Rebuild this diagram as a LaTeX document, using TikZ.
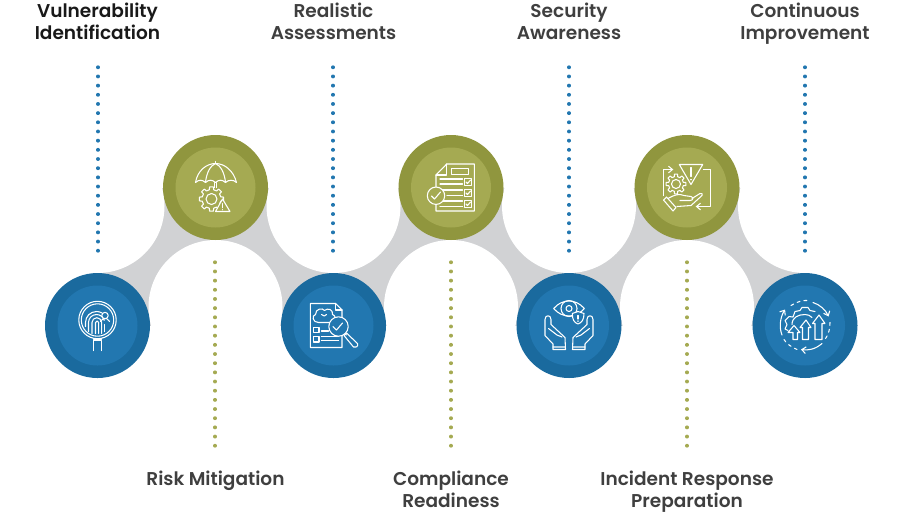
\documentclass[tikz,border=0pt]{standalone}
\usepackage{fontspec}
\setmainfont{Poppins}[BoldFont={Poppins SemiBold}]
\usetikzlibrary{arrows.meta}
\definecolor{blueout}{HTML}{1A6A9E}
\definecolor{bluein}{HTML}{2277B0}
\definecolor{oliveout}{HTML}{90963E}
\definecolor{olivein}{HTML}{A5AA52}
\definecolor{bandgray}{HTML}{D1D2D4}
\definecolor{labelgray}{HTML}{3F3F3F}
\tikzset{
  outerdisc/.style={circle,minimum size=78.75pt,inner sep=0pt,fill=#1},
  innerdisc/.style={circle,minimum size=60pt,inner sep=0pt,fill=#1},
  hole/.style={circle,minimum size=100.5pt,inner sep=0pt,fill=white},
  lab/.style={align=center,anchor=base,inner sep=0pt,text=labelgray,font=\fontsize{13.9}{16.5}\selectfont\bfseries},
  dots/.style={draw=#1,line width=2.5pt,line cap=round,dash pattern=on 0.4pt off 6.48pt},
  icon/.style={draw=white,line width=0.8pt,line join=round,line cap=round},
  tip/.style={icon,-{Straight Barb[length=3pt,width=5pt]}},
}
% gear outline: centre, radius at the root, radius at the teeth
\newcommand{\geartrace}[3]{
  \draw[icon,shift={#1}] \foreach \a in {0,45,...,315} {
    (\a-13:#2) -- (\a-9:#3) -- (\a+9:#3) -- (\a+13:#2) arc[start angle=\a+13,end angle=\a+32,radius=#2]
  };
}
\begin{document}
\begin{tikzpicture}[x=0.75pt,y=-0.75pt]
  \useasboundingbox (0,0) rectangle (902,512);

  % band and the white holes cut out of it
  \fill[bandgray] (97.5,187.5) rectangle (805,325.5);
  \foreach \i/\x in {1/97.5,2/333.5,3/569,4/805}
    \node[hole] (up\i) at (\x,206) {};
  \foreach \i/\x in {1/215.5,2/451,3/687}
    \node[hole] (lo\i) at (\x,307) {};

  % discs
  \foreach \i/\x in {1/97.5,2/333.5,3/569,4/805} {
    \node[outerdisc=blueout] (b\i) at (\x,325.5) {};
    \node[innerdisc=bluein] at (b\i) {};
  }
  \foreach \i/\x in {1/215.5,2/451,3/687} {
    \node[outerdisc=oliveout] (o\i) at (\x,187.5) {};
    \node[innerdisc=olivein] at (o\i) {};
  }

  % dotted lines
  \foreach \i/\x in {1/98,2/333,3/569,4/805} {
    \coordinate (bt\i) at (\x,67);
    \coordinate (bb\i) at (\x,251);
    \draw[dots=bluein] (bt\i) -- (bb\i);
  }
  \foreach \i/\x in {1/215,2/451,3/687} {
    \coordinate (ot\i) at (\x,262);
    \coordinate (ob\i) at (\x,446);
    \draw[dots=olivein] (ot\i) -- (ob\i);
  }

  % labels
  \node[lab,text=black!90] (l1) at (97.5,39) {Vulnerability\\Identification};
  \node[lab] (l2) at (333.5,39) {Realistic\\Assessments};
  \node[lab] (l3) at (569,39) {Security\\Awareness};
  \node[lab] (l4) at (805,39) {Continuous\\Improvement};
  \node[lab] (l5) at (215.5,485) {Risk Mitigation};
  \node[lab] (l6) at (451,507) {Compliance\\Readiness};
  \node[lab] (l7) at (687,507) {Incident Response\\Preparation};

  % fingerprint lens
  \begin{scope}[shift={(b1)}]
    \draw[icon] (0,-5.5) circle (18.7) (0,-5.5) circle (16.2);
    \draw[icon] (-3.7,25) -- (-3.7,15) -- (4,15) -- (4,25) (-4,13.5) -- (4,13.5);
    \draw[icon] (-12,1) -- (-12,-3) arc[start angle=180,end angle=300,radius=11];
    \draw[icon] (-9,6) -- (-9,-3) arc[start angle=180,end angle=345,radius=8];
    \draw[icon] (-5.5,8) -- (-5.5,-3) arc[start angle=180,end angle=360,radius=4.8] -- (4.1,8);
    \draw[icon] (-2,8) -- (-2,-3) arc[start angle=180,end angle=360,radius=1.6] -- (1.2,8);
    \draw[icon] (7,-1) -- (7,6);
    \draw[icon,fill=bluein] (7.5,-10) circle (3.2);
    \draw[icon] (3,-4) arc[start angle=200,end angle=340,radius=4.8];
  \end{scope}

  % umbrella, gear, warning
  \begin{scope}[shift={(o1)}]
    \draw[icon] (-20,-5) .. controls (-18,-17) and (-9,-24) .. (0,-24) .. controls (9,-24) and (18,-17) .. (21,-5);
    \draw[icon] (-20,-5) .. controls (-17,-8) and (-13,-8) .. (-10,-5) .. controls (-7,-8) and (-3,-8) .. (0,-5)
      .. controls (3,-8) and (7,-8) .. (10,-5) .. controls (13,-8) and (18,-8) .. (21,-5);
    \draw[icon] (-10,-5) .. controls (-9,-15) and (-5,-22) .. (0,-24) .. controls (5,-22) and (9,-15) .. (10,-5);
    \draw[icon] (-1,-5) -- (-1,0) (1,-5) -- (1,0) (0,-24) -- (0,-26);
    \geartrace{(-4,11.5)}{9.5}{12.2}
    \draw[icon] (-4,11.5) circle (5.5);
    \draw[icon,fill=olivein] (7,11.5) -- (14.5,24) -- (0,24) -- cycle;
    \draw[icon] (7,16) -- (7,20) (7,22) -- (7,22.3);
  \end{scope}

  % document, brain, lens
  \begin{scope}[shift={(b2)}]
    \draw[icon] (2.2,-22) -- (-23.2,-22) -- (-23.2,22) -- (8.5,22) -- (8.5,-15.5) -- cycle;
    \draw[icon] (2.2,-22) -- (2.2,-15.5) -- (8.5,-15.5);
    \draw[icon] (-15,-3) .. controls (-21,-3) and (-22,-10) .. (-18,-11) .. controls (-18,-17) and (-11,-18) .. (-9,-15)
      .. controls (-6,-18) and (0,-16) .. (-1,-11) .. controls (2,-10) and (2,-7) .. (1,-6);
    \draw[icon] (-15,-3) -- (-4,-3) (-12,-11) .. controls (-10,-9) and (-8,-9) .. (-7,-11);
    \draw[icon] (-20,2) rectangle (-14.5,7.2) (-20,11) rectangle (-14.5,16.5);
    \draw[icon] (-12,5.5) -- (-5,5.5) (-12,11) -- (5,11) (-12,15) -- (5,15);
    \draw[icon,fill=bluein] (5,1) circle (9.7);
    \draw[icon] (-0.5,1) -- (3,4.5) -- (9,-2.5);
    \draw[icon] (11.5,8) -- (13,9.5);
    \draw[icon] (10.5,10) -- (13,7.5) -- (24,18) .. controls (25,21) and (22,23) .. (20,21.5) -- cycle;
  \end{scope}

  % checklist
  \begin{scope}[shift={(o2)}]
    \draw[icon] (-4.3,-23.5) -- (23.3,-23.5) -- (23.3,23.5) -- (-15,23.5) -- (-15,-12.5) -- cycle;
    \draw[icon] (-4.3,-23.5) -- (-4.3,-12.5) -- (-15,-12.5);
    \draw[icon] (0.7,-19) rectangle (17.7,-13.2);
    \foreach \y in {-9,2,13} {
      \draw[icon] (13.3,\y) rectangle (20.7,\y+6.8);
      \draw[icon] (15,\y+3.5) -- (16.5,\y+5) -- (19.5,\y+1.5);
      \draw[icon] (-11,\y+0.5) -- (11.5,\y+0.5);
    }
    \draw[icon] (-11,-3.5) -- (11.5,-3.5) (-4,8) -- (11.5,8) (-11,19) -- (11.5,19);
    \draw[icon,fill=olivein] (-15,8.2) circle (8.7);
    \draw[icon] (-19.5,8.5) -- (-16.5,11.5) -- (-10.5,4.5);
  \end{scope}

  % eye, shield, hands
  \begin{scope}[shift={(b3)}]
    \draw[icon] (-15.3,-17) .. controls (-7,-27) and (7,-27) .. (15.3,-17) .. controls (7,-7) and (-7,-7) .. (-15.3,-17) -- cycle;
    \draw[icon] (0,-17) circle (8) (0,-17) circle (3);
    \draw[icon,fill=bluein] (3.3,-12) -- (9,-14) -- (15,-12) .. controls (15,-6) and (13,-3) .. (9,-1.5) .. controls (5,-3) and (3.3,-6) .. (3.3,-12) -- cycle;
    \draw[icon] (9,-10) -- (9,-6.5) (9,-4.5) -- (9,-4.2);
    \foreach \s in {-1,1} {
      \begin{scope}[xscale=\s]
        \draw[icon] (-24,-6) .. controls (-24,-11) and (-18,-11) .. (-18,-6) -- (-18,-1) -- (-4,12) -- (-3.5,24) -- (-16,24) -- (-16,18.5) -- (-24,10) -- cycle;
        \draw[icon] (-20.5,3) -- (-12,9.5) (-12,9.5) -- (-7,11.5) (-16,21.5) -- (-3.5,21.5);
      \end{scope}
    }
  \end{scope}

  % gear, warning, hand and cycle
  \begin{scope}[shift={(o3)}]
    \draw[icon] (-7.7,-23) -- (15.7,-23) -- (4,-3) -- cycle;
    \draw[icon] (4,-20) -- (4,-11) (4,-8) -- (4,-7.7);
    \draw[tip] (-23.7,8) -- (-23.7,-18) -- (-13.7,-18);
    \draw[tip] (16.3,-18) -- (23.7,-18) -- (23.7,19) -- (8.7,19);
    \geartrace{(-11,-3.5)}{7.5}{10}
    \draw[icon] (-11,-3.5) circle (4.5);
    \draw[icon] (-23.5,12.5) -- (-20.5,9.5) -- (-11,20) -- (-14,23.5) -- cycle;
    \draw[icon] (-19,11) .. controls (-12,7) and (-8,6) .. (-3,8) -- (4,9) .. controls (7,10) and (6,13) .. (3,13) -- (-7,13)
      (5,11) -- (13,6) .. controls (15,5) and (16,7) .. (15,8) -- (4,18) -- (-10,19);
  \end{scope}

  % arrows, gear and cycle
  \begin{scope}[shift={(b4)}]
    \draw[icon] (-12,14) -- (-12,7) -- (-17,7) -- (-11,0) -- (-5,7) -- (-7.5,7) -- (-7.5,14) -- cycle;
    \draw[icon] (-2.5,14) -- (-2.5,2) -- (-5,2) -- (1,-5.5) -- (6,2) -- (3.5,2) -- (3.5,14) -- cycle;
    \draw[icon] (10,14) -- (10,-2) -- (7.5,-2) -- (14,-10.5) -- (20,-2) -- (17,-2) -- (17,14) -- cycle;
    \draw[icon] (-13,-1) .. controls (-13,-8) and (-7,-11) .. (0,-11) .. controls (3,-11) and (5,-10) .. (7,-8);
    \draw[icon] (-17,5) -- (-20,3.5) -- (-18,-1) -- (-20,-5) -- (-16,-9) -- (-12,-8.5) -- (-10,-14) -- (-5,-15) -- (-3,-18) -- (3,-18) -- (5,-15) -- (10,-14);
    \draw[tip] (8,-23) .. controls (15,-21) and (21,-15) .. (23.5,-9);
    \draw[tip] (17,18) .. controls (10,24) and (3,25) .. (-4,24);
    \draw[tip] (-23,9.5) .. controls (-26,2) and (-25,-8) .. (-20,-16);
    \draw[icon,dash pattern=on 2.2pt off 3pt] (-14,-20) .. controls (-8,-24) and (-2,-25.5) .. (5,-25);
    \draw[icon,dash pattern=on 2.2pt off 3pt] (25,-3) .. controls (25,3) and (24,8) .. (20,14);
    \draw[icon,dash pattern=on 2.2pt off 3pt] (-21,14) .. controls (-18,19) and (-14,21) .. (-8,24);
  \end{scope}
\end{tikzpicture}
\end{document}
